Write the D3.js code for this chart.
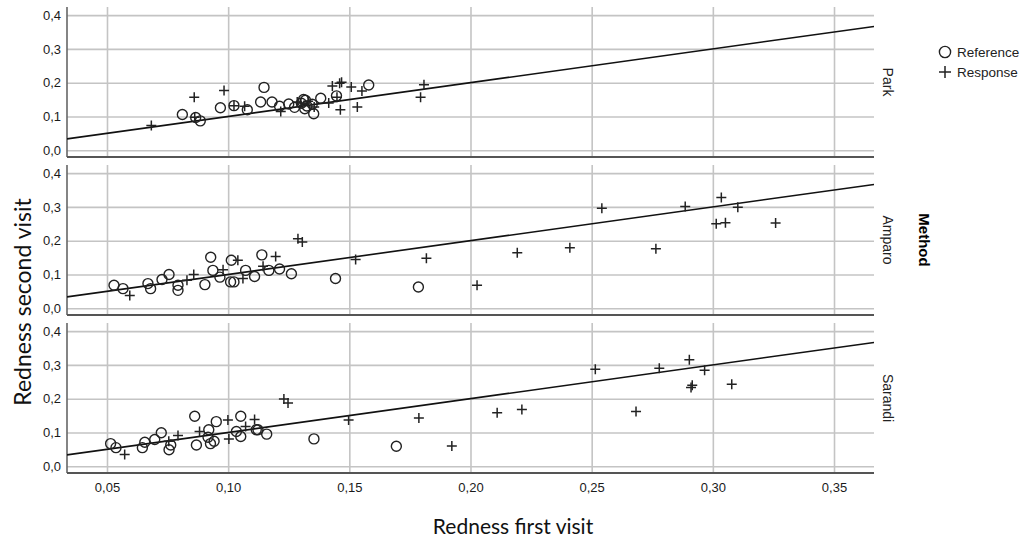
<!DOCTYPE html>
<html>
<head>
<meta charset="utf-8">
<script src="https://cdn.jsdelivr.net/npm/d3@7"></script>
<style>
  body { margin: 0; background: #fff; }
  .tick text { font-family: "Liberation Sans", Arial, sans-serif; font-size: 13px; fill: #1a1a1a; }
</style>
</head>
<body>
<div id="chart"></div>
<script>
// panels (facets) in order
var methods = ["Park", "Amparo", "Sarandi"];

// [first visit, second visit] pairs
var parkReference = [
  [0.0811, 0.106], [0.0866, 0.097], [0.0885, 0.087], [0.0968, 0.126], [0.1024, 0.132],
  [0.1079, 0.120], [0.1134, 0.143], [0.1148, 0.186], [0.1181, 0.143], [0.1212, 0.130],
  [0.1250, 0.137], [0.1274, 0.127], [0.1302, 0.139], [0.1311, 0.150], [0.1319, 0.148],
  [0.1316, 0.123], [0.1325, 0.131], [0.1347, 0.136], [0.1353, 0.108], [0.1382, 0.154],
  [0.1447, 0.161], [0.1580, 0.193]
];
var parkResponse = [
  [0.0683, 0.073], [0.0860, 0.157], [0.0862, 0.098], [0.0983, 0.177], [0.1024, 0.132],
  [0.1068, 0.130], [0.1217, 0.115], [0.1285, 0.143], [0.1300, 0.140], [0.1330, 0.145],
  [0.1355, 0.128], [0.1415, 0.140], [0.1430, 0.190], [0.1460, 0.198], [0.1468, 0.201],
  [0.1463, 0.120], [0.1449, 0.157], [0.1508, 0.187], [0.1533, 0.128], [0.1552, 0.175],
  [0.1794, 0.157], [0.1808, 0.194]
];
var amparoReference = [
  [0.0529, 0.068], [0.0566, 0.058], [0.0669, 0.073], [0.0680, 0.058], [0.0727, 0.085],
  [0.0756, 0.100], [0.0793, 0.068], [0.0793, 0.053], [0.0904, 0.070], [0.0928, 0.151],
  [0.0937, 0.112], [0.0966, 0.092], [0.1013, 0.142], [0.1010, 0.078], [0.1024, 0.078],
  [0.1072, 0.112], [0.1109, 0.094], [0.1139, 0.158], [0.1168, 0.112], [0.1212, 0.116],
  [0.1261, 0.102], [0.1443, 0.088], [0.1785, 0.063]
];
var amparoResponse = [
  [0.0594, 0.038], [0.0830, 0.083], [0.0858, 0.100], [0.0979, 0.114], [0.1040, 0.142],
  [0.1061, 0.088], [0.1144, 0.124], [0.1196, 0.153], [0.1288, 0.206], [0.1306, 0.196],
  [0.1526, 0.144], [0.1818, 0.148], [0.2027, 0.068], [0.2193, 0.164], [0.2410, 0.179],
  [0.2542, 0.296], [0.2765, 0.176], [0.2886, 0.301], [0.3035, 0.328], [0.3014, 0.250],
  [0.3052, 0.253], [0.3103, 0.299], [0.3259, 0.252]
];
var sarandiReference = [
  [0.0515, 0.067], [0.0537, 0.055], [0.0646, 0.055], [0.0656, 0.071], [0.0697, 0.079],
  [0.0724, 0.099], [0.0756, 0.049], [0.0763, 0.063], [0.0862, 0.148], [0.0869, 0.063],
  [0.0920, 0.108], [0.0917, 0.086], [0.0927, 0.067], [0.0942, 0.074], [0.0951, 0.132],
  [0.1034, 0.103], [0.1052, 0.148], [0.1052, 0.088], [0.1116, 0.108], [0.1123, 0.108],
  [0.1159, 0.095], [0.1354, 0.081], [0.1694, 0.059]
];
var sarandiResponse = [
  [0.0573, 0.035], [0.0755, 0.074], [0.0793, 0.091], [0.0882, 0.103], [0.0999, 0.137],
  [0.1003, 0.081], [0.1072, 0.118], [0.1109, 0.138], [0.1230, 0.199], [0.1247, 0.187],
  [0.1497, 0.137], [0.1787, 0.143], [0.1923, 0.060], [0.2110, 0.158], [0.2212, 0.168],
  [0.2515, 0.287], [0.2683, 0.162], [0.2779, 0.290], [0.2903, 0.315], [0.2915, 0.240],
  [0.2910, 0.233], [0.2966, 0.284], [0.3078, 0.243]
];

var xTicks = [0.05, 0.10, 0.15, 0.20, 0.25, 0.30, 0.35];
var yTicks = [0.0, 0.1, 0.2, 0.3, 0.4];
var xDomain = [0.0335, 0.3665];
var yDomain = [-0.02, 0.424];

var panelData = [
  [parkReference, parkResponse],
  [amparoReference, amparoResponse],
  [sarandiReference, sarandiResponse]
];

var svgWidth = 1028;
var svgHeight = 542;

var margin = { left: 67, top: 7 };
var width = 807;
var panelH = 150;
var gap = 8;

var svg = d3.select("#chart")
  .append("svg")
  .attr("width", svgWidth)
  .attr("height", svgHeight);

var xScale = d3.scaleLinear().domain(xDomain).range([0, width]);
var yScale = d3.scaleLinear().domain(yDomain).range([panelH, 0]);

var commaFmt = function (f) {
  return function (d) { return d3.format(f)(d).replace(".", ","); };
};

methods.forEach(function (m, i) {
  var g = svg.append("g")
    .attr("transform", `translate(${margin.left}, ${margin.top + i * (panelH + gap)})`);

  // vertical grid (+ x labels on the last panel)
  var xAxis = d3.axisBottom(xScale)
    .tickValues(xTicks)
    .tickSize(-panelH)
    .tickPadding(10)
    .tickFormat(i === methods.length - 1 ? commaFmt(".2f") : "");
  var gx = g.append("g")
    .attr("transform", `translate(0, ${panelH})`)
    .call(xAxis);
  gx.selectAll(".tick line").attr("stroke", "#c4c4c4").attr("stroke-width", 1.6);
  gx.select(".domain").remove();

  // horizontal grid + y labels
  var yAxis = d3.axisLeft(yScale)
    .tickValues(yTicks)
    .tickSize(-width)
    .tickPadding(6)
    .tickFormat(commaFmt(".1f"));
  var gy = g.append("g").call(yAxis);
  gy.selectAll(".tick line").attr("stroke", "#c4c4c4").attr("stroke-width", 1.6);
  gy.select(".domain").remove();

  // axis lines
  g.append("line")
    .attr("x1", 0).attr("x2", 0).attr("y1", 0).attr("y2", panelH)
    .attr("stroke", "#666").attr("stroke-width", 1.6);
  g.append("line")
    .attr("x1", 0).attr("x2", width).attr("y1", panelH).attr("y2", panelH)
    .attr("stroke", "#555").attr("stroke-width", 1.8);

  // clip so the reference line stays in the panel
  var clipId = "clip" + i;
  g.append("clipPath").attr("id", clipId)
    .append("rect").attr("width", width).attr("height", panelH);

  // y = x line
  g.append("line")
    .attr("clip-path", `url(#${clipId})`)
    .attr("x1", xScale(xDomain[0])).attr("y1", yScale(xDomain[0]))
    .attr("x2", xScale(xDomain[1])).attr("y2", yScale(xDomain[1]))
    .attr("stroke", "#111").attr("stroke-width", 1.6);

  // reference circles
  g.selectAll("circle.ref")
    .data(panelData[i][0])
    .enter()
    .append("circle")
    .attr("class", "ref")
    .attr("cx", d => xScale(d[0]))
    .attr("cy", d => yScale(d[1]))
    .attr("r", 5)
    .attr("fill", "none")
    .attr("stroke", "#222")
    .attr("stroke-width", 1.4);

  // response crosses
  g.selectAll("path.resp")
    .data(panelData[i][1])
    .enter()
    .append("path")
    .attr("class", "resp")
    .attr("d", d => {
      var cx = xScale(d[0]), cy = yScale(d[1]);
      return `M${cx - 5},${cy}H${cx + 5}M${cx},${cy - 5}V${cy + 5}`;
    })
    .attr("stroke", "#222")
    .attr("stroke-width", 1.5);

  // strip label
  g.append("text")
    .attr("transform", `translate(${width + 14}, ${panelH / 2}) rotate(90)`)
    .attr("dy", "0.35em")
    .style("text-anchor", "middle")
    .style("font-family", "Liberation Sans, Arial, sans-serif")
    .style("font-size", "14px")
    .style("fill", "#222")
    .text(m);
});

// facet title
svg.append("text")
  .attr("transform", "translate(924, 240) rotate(90)")
  .attr("dy", "0.35em")
  .style("text-anchor", "middle")
  .style("font-family", "Liberation Sans, Arial, sans-serif")
  .style("font-size", "15px")
  .style("font-weight", "bold")
  .text("Method");

// legend
var legend = svg.append("g").attr("transform", "translate(945, 0)");
legend.append("circle")
  .attr("cx", 0).attr("cy", 52).attr("r", 5.6)
  .attr("fill", "none").attr("stroke", "#222").attr("stroke-width", 1.4);
legend.append("path")
  .attr("d", "M-6,72H6M0,66V78")
  .attr("stroke", "#222").attr("stroke-width", 1.5);
legend.selectAll("text.leg")
  .data(["Reference", "Response"])
  .enter()
  .append("text")
  .attr("class", "leg")
  .attr("x", 12)
  .attr("y", (d, i) => 57 + i * 20)
  .style("font-family", "Liberation Sans, Arial, sans-serif")
  .style("font-size", "13.5px")
  .style("fill", "#222")
  .text(d => d);

// axis titles
svg.append("text")
  .attr("transform", "translate(513, 534)")
  .style("text-anchor", "middle")
  .style("font-family", "Lato, sans-serif")
  .style("font-size", "21px")
  .style("fill", "#111")
  .text("Redness first visit");

svg.append("text")
  .attr("transform", "translate(31, 302) rotate(-90)")
  .style("text-anchor", "middle")
  .style("font-family", "Lato, sans-serif")
  .style("font-size", "23px")
  .style("fill", "#111")
  .text("Redness second visit");
</script>
</body>
</html>
